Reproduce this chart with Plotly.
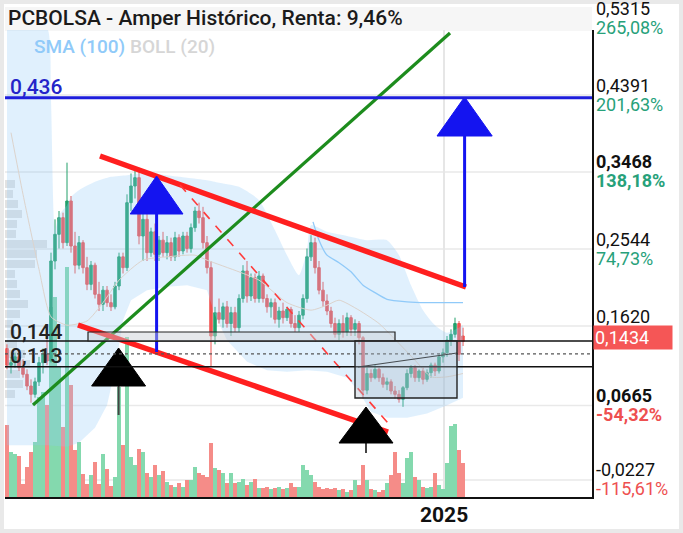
import plotly.graph_objects as go
import pandas as pd

# ---------------- data ----------------
START = pd.Timestamp("2022-11-28")
N_WEEKS = 115
DATES = pd.date_range(START, periods=N_WEEKS, freq="7D")

OPEN = [0.135, 0.115, 0.118, 0.125, 0.112, 0.104, 0.090, 0.080, 0.095, 0.118,
        0.128, 0.120, 0.240, 0.272, 0.292, 0.262, 0.312, 0.258, 0.235, 0.262,
        0.232, 0.212, 0.235, 0.200, 0.188, 0.205, 0.190, 0.185, 0.210, 0.245,
        0.232, 0.310, 0.330, 0.340, 0.270, 0.290, 0.250, 0.275, 0.248, 0.265,
        0.250, 0.262, 0.245, 0.268, 0.252, 0.270, 0.255, 0.280, 0.300, 0.292,
        0.262, 0.232, 0.150, 0.178, 0.170, 0.185, 0.165, 0.178, 0.160, 0.195,
        0.228, 0.198, 0.220, 0.195, 0.222, 0.195, 0.185, 0.190, 0.170, 0.180,
        0.172, 0.182, 0.165, 0.160, 0.175, 0.195, 0.245, 0.262, 0.232, 0.205,
        0.192, 0.180, 0.165, 0.152, 0.165, 0.155, 0.172, 0.158, 0.165, 0.148,
        0.085, 0.105, 0.100, 0.110, 0.100, 0.092, 0.095, 0.084, 0.080, 0.074,
        0.088, 0.105, 0.112, 0.100, 0.108, 0.098, 0.106, 0.115, 0.108, 0.125,
        0.130, 0.145, 0.152, 0.165, 0.150]
HIGH = [0.140, 0.125, 0.130, 0.128, 0.122, 0.110, 0.098, 0.100, 0.125, 0.135,
        0.150, 0.250, 0.290, 0.300, 0.298, 0.358, 0.318, 0.275, 0.270, 0.265,
        0.245, 0.240, 0.238, 0.215, 0.210, 0.210, 0.200, 0.215, 0.250, 0.250,
        0.320, 0.345, 0.350, 0.352, 0.300, 0.300, 0.280, 0.285, 0.270, 0.275,
        0.270, 0.268, 0.275, 0.272, 0.275, 0.275, 0.285, 0.305, 0.310, 0.305,
        0.270, 0.240, 0.185, 0.195, 0.190, 0.192, 0.185, 0.185, 0.200, 0.235,
        0.240, 0.225, 0.225, 0.228, 0.225, 0.200, 0.195, 0.195, 0.185, 0.190,
        0.185, 0.185, 0.175, 0.180, 0.200, 0.255, 0.271, 0.268, 0.240, 0.215,
        0.200, 0.185, 0.172, 0.170, 0.175, 0.178, 0.175, 0.170, 0.168, 0.150,
        0.112, 0.110, 0.115, 0.112, 0.105, 0.100, 0.098, 0.090, 0.085, 0.090,
        0.110, 0.115, 0.115, 0.110, 0.112, 0.110, 0.118, 0.118, 0.128, 0.135,
        0.150, 0.158, 0.172, 0.168, 0.160]
LOW = [0.110, 0.105, 0.112, 0.108, 0.100, 0.085, 0.070, 0.076, 0.090, 0.105,
       0.115, 0.118, 0.230, 0.255, 0.255, 0.258, 0.250, 0.225, 0.230, 0.225,
       0.205, 0.205, 0.195, 0.180, 0.180, 0.185, 0.180, 0.182, 0.205, 0.225,
       0.228, 0.300, 0.315, 0.260, 0.240, 0.240, 0.245, 0.240, 0.240, 0.245,
       0.242, 0.240, 0.240, 0.245, 0.248, 0.250, 0.250, 0.275, 0.285, 0.255,
       0.225, 0.113, 0.140, 0.165, 0.160, 0.160, 0.150, 0.155, 0.155, 0.190,
       0.190, 0.192, 0.190, 0.190, 0.190, 0.178, 0.172, 0.165, 0.160, 0.165,
       0.168, 0.160, 0.155, 0.155, 0.170, 0.190, 0.240, 0.225, 0.200, 0.185,
       0.175, 0.160, 0.148, 0.145, 0.148, 0.150, 0.150, 0.150, 0.140, 0.075,
       0.080, 0.095, 0.098, 0.095, 0.088, 0.085, 0.080, 0.075, 0.070, 0.065,
       0.085, 0.100, 0.095, 0.095, 0.092, 0.095, 0.100, 0.102, 0.105, 0.118,
       0.125, 0.138, 0.148, 0.120, 0.138]
CLOSE = [0.115, 0.118, 0.125, 0.112, 0.104, 0.090, 0.080, 0.095, 0.118, 0.128,
         0.120, 0.240, 0.272, 0.292, 0.262, 0.312, 0.258, 0.235, 0.262, 0.232,
         0.212, 0.235, 0.200, 0.188, 0.205, 0.190, 0.185, 0.210, 0.245, 0.232,
         0.310, 0.330, 0.340, 0.270, 0.290, 0.250, 0.275, 0.248, 0.265, 0.250,
         0.262, 0.245, 0.268, 0.252, 0.270, 0.255, 0.280, 0.300, 0.292, 0.262,
         0.232, 0.150, 0.178, 0.170, 0.185, 0.165, 0.178, 0.160, 0.195, 0.228,
         0.198, 0.220, 0.195, 0.222, 0.195, 0.185, 0.190, 0.170, 0.180, 0.172,
         0.182, 0.165, 0.160, 0.175, 0.195, 0.245, 0.262, 0.232, 0.205, 0.192,
         0.180, 0.165, 0.152, 0.165, 0.155, 0.172, 0.158, 0.165, 0.148, 0.085,
         0.105, 0.100, 0.110, 0.100, 0.092, 0.095, 0.084, 0.080, 0.074, 0.088,
         0.105, 0.112, 0.100, 0.108, 0.098, 0.106, 0.115, 0.108, 0.125, 0.130,
         0.145, 0.152, 0.165, 0.128, 0.1434]
VOLUME = [72, 45, 43, 41, 13, 30, 45, 55, 100, 105,
          92, 190, 200, 130, 70, 230, 112, 47, 55, 23,
          13, 22, 35, 13, 43, 28, 11, 20, 110, 52,
          160, 40, 32, 48, 45, 24, 20, 32, 22, 26,
          15, 12, 10, 14, 10, 17, 17, 30, 24, 22,
          20, 54, 29, 27, 24, 14, 24, 14, 15, 18,
          12, 15, 18, 9, 9, 10, 8, 9, 10, 8,
          9, 14, 10, 10, 32, 27, 22, 15, 10, 8,
          9, 8, 9, 7, 8, 5, 7, 17, 12, 32,
          17, 8, 7, 5, 7, 14, 22, 45, 24, 14,
          39, 45, 20, 17, 10, 9, 10, 24, 12, 8,
          34, 71, 73, 47, 34]

BOLL_IDX = [0, 5, 10, 11, 12, 13, 15, 16, 18, 22, 26, 30, 35, 40, 45, 50, 53, 58,
            63, 67, 70, 73, 75, 76, 80, 85, 90, 95, 98, 101, 104, 107, 110, 114]
BOLL_UP = [0.530, 0.530, 0.520, 0.433, 0.277, 0.295, 0.307, 0.317, 0.325, 0.335,
           0.341, 0.343, 0.346, 0.343, 0.340, 0.337, 0.334, 0.329, 0.313, 0.277,
           0.247, 0.223, 0.253, 0.283, 0.275, 0.270, 0.265, 0.265, 0.247, 0.211,
           0.181, 0.163, 0.154, 0.163]
LOW_IDX = [0, 10, 15, 18, 22, 25, 27, 29, 31, 35, 40, 45, 50, 52, 55, 60, 65, 70,
           75, 80, 85, 88, 91, 95, 100, 105, 110, 114]
BOLL_LOW = [0.019, 0.019, 0.017, 0.022, 0.040, 0.067, 0.109, 0.169, 0.193, 0.205,
            0.209, 0.211, 0.205, 0.175, 0.145, 0.119, 0.109, 0.107, 0.109, 0.107,
            0.100, 0.083, 0.059, 0.052, 0.052, 0.057, 0.067, 0.076]
MID_IDX = [1, 4, 8, 11, 15, 20, 24, 28, 34, 40, 47, 50, 58, 63, 70, 76, 80, 83,
           88, 93, 98, 102, 106, 110, 114]
BOLL_MID = [0.394, 0.320, 0.230, 0.173, 0.163, 0.168, 0.190, 0.217, 0.241, 0.245,
            0.247, 0.241, 0.227, 0.217, 0.190, 0.181, 0.187, 0.193, 0.181, 0.165,
            0.141, 0.121, 0.101, 0.101, 0.105]
SMA_IDX = [76.5, 78, 80, 83, 86, 89, 92, 95, 100, 105, 110, 114]
SMA_100 = [0.287, 0.265, 0.247, 0.238, 0.227, 0.211, 0.202, 0.194, 0.191, 0.190,
           0.190, 0.190]

# Volume profile (price level -> volume)
PROFILE_PRICE = [0.332, 0.320, 0.308, 0.296, 0.284, 0.272, 0.260, 0.248, 0.236,
                 0.224, 0.212, 0.200, 0.188, 0.176, 0.164, 0.152, 0.140, 0.128,
                 0.116, 0.104, 0.092, 0.080]
PROFILE_VOL = [10, 8, 13, 17, 12, 11, 42, 32, 30, 10, 12, 15, 23, 15, 8, 10, 12,
               20, 25, 15, 18, 10]

# Axis labels
TICK_PRICES = [0.5315, 0.4391, 0.3468, 0.2544, 0.1620, 0.0665, -0.0227]
TICK_PRICE_TEXT = ["0,5315", "0,4391", "0,3468", "0,2544", "0,1620", "0,0665", "-0,0227"]
TICK_PCT_TEXT = ["265,08%", "201,63%", "138,18%", "74,73%", "11,28%", "-54,32%", "-115,61%"]
TICK_BOLD = [False, False, True, False, False, True, False]
LAST_PRICE = 0.1434
LAST_PRICE_TEXT = "0,1434"
YEAR_TICK = "2025-01-01"
YEAR_TEXT = "2025"

# Drawings (week index, price)
GREEN_LINE = [(6.5, 0.0672), (110.75, 0.5136)]
RED_UPPER = [(23.25, 0.366), (114.75, 0.2088)]
RED_LOWER = [(17.75, 0.1632), (95.25, 0.0348)]
RED_DASH = [(43.25, 0.3312), (95.25, 0.0456)]
BLUE_LEVEL = 0.436
LEVEL_HI = 0.144
LEVEL_LO = 0.113
LEVEL_MID = 0.1285
BLUE_ARROWS = [  # shaft x, shaft bottom, head base, apex, head half width
    (37.4, 0.1308, 0.2964, 0.342, 6.6),
    (114.4, 0.2088, 0.390, 0.4368, 6.9),
]
BLACK_TRIANGLES = [  # x, apex, base, stem bottom, half width
    (27.9, 0.1356, 0.090, 0.0552, 6.75),
    (89.75, 0.0648, 0.0216, 0.0096, 6.75),
]
RECT_A = (20.25, 97.0, 0.144, 0.1548)
RECT_B = (87.0, 112.5, 0.0756, 0.144)
THIN_LINE = [(87.75, 0.1128), (112.5, 0.1296)]

# ---------------- helpers ----------------
def at(i):
    return START + pd.Timedelta(days=7 * i)

X_RANGE = [at(-0.5), at(146.25)]
Y_RANGE = [-0.0432, 0.5172]

def yp(v):  # price -> paper fraction
    return (v - Y_RANGE[0]) / (Y_RANGE[1] - Y_RANGE[0])

GREEN = "#22a06b"
RED = "#f0524f"
VOL_GREEN = "#84d9ae"
VOL_RED = "#f58c88"
FONT = "Roboto"

fig = go.Figure()

vol_colors = [VOL_GREEN if c >= o else VOL_RED for o, c in zip(OPEN, CLOSE)]
fig.add_trace(go.Bar(x=DATES, y=VOLUME, marker=dict(color=vol_colors, line=dict(width=0)),
                     width=5.6 * 86400000, yaxis="y", hoverinfo="skip", showlegend=False))

DAY_MS = 86400000
fig.add_trace(go.Bar(y=PROFILE_PRICE, x=[v * 1.77 * DAY_MS for v in PROFILE_VOL],
                     base=[X_RANGE[0]] * len(PROFILE_VOL), orientation="h", width=0.0096,
                     marker=dict(color="rgba(150,150,150,0.28)", line=dict(width=0)),
                     yaxis="y2", hoverinfo="skip", showlegend=False))

fig.add_trace(go.Scatter(x=[DATES[i] for i in LOW_IDX], y=BOLL_LOW, mode="lines",
                         line=dict(width=0, color="rgba(0,0,0,0)"), yaxis="y2",
                         hoverinfo="skip", showlegend=False))
fig.add_trace(go.Scatter(x=[DATES[i] for i in BOLL_IDX], y=BOLL_UP, mode="lines",
                         line=dict(width=0, color="rgba(0,0,0,0)", shape="spline", smoothing=0.6),
                         fill="tonexty", fillcolor="rgba(144,202,249,0.28)", yaxis="y2",
                         hoverinfo="skip", showlegend=False))
fig.add_trace(go.Scatter(x=[DATES[i] for i in MID_IDX], y=BOLL_MID, mode="lines",
                         line=dict(width=1, color="#dcd3cc", shape="spline", smoothing=0.6),
                         yaxis="y2", hoverinfo="skip", showlegend=False))
fig.add_trace(go.Scatter(x=[at(i) for i in SMA_IDX], y=SMA_100, mode="lines",
                         line=dict(width=1.3, color="#90caf9", shape="spline", smoothing=0.5),
                         yaxis="y2", hoverinfo="skip", showlegend=False))

fig.add_trace(go.Candlestick(x=DATES, open=OPEN, high=HIGH, low=LOW, close=CLOSE,
                             increasing=dict(line=dict(color=GREEN, width=1), fillcolor=GREEN),
                             decreasing=dict(line=dict(color=RED, width=1), fillcolor=RED),
                             whiskerwidth=0, yaxis="y2", hoverinfo="skip", showlegend=False))

def seg(points, color, width, dash="solid"):
    fig.add_trace(go.Scatter(x=[at(p[0]) for p in points], y=[p[1] for p in points],
                             mode="lines", line=dict(color=color, width=width, dash=dash),
                             yaxis="y2", hoverinfo="skip", showlegend=False))

seg(GREEN_LINE, "#1d8c1d", 3.2)
seg(RED_UPPER, "#ff1f1f", 5.5)
seg(RED_LOWER, "#ff1f1f", 5.5)
seg(RED_DASH, "#ff3b3b", 1.6, "dash")
seg(THIN_LINE, "#111111", 1.2)

for (x, bot, base, apex, hw) in BLUE_ARROWS:
    seg([(x, bot), (x, base)], "#1414f0", 3)
    fig.add_trace(go.Scatter(x=[at(x - hw), at(x), at(x + hw), at(x - hw)],
                             y=[base, apex, base, base], mode="lines", fill="toself",
                             fillcolor="#1414f0", line=dict(color="#1414f0", width=1),
                             yaxis="y2", hoverinfo="skip", showlegend=False))

for (x, apex, base, stem, hw) in BLACK_TRIANGLES:
    seg([(x, base), (x, stem)], "#444444", 2)
    fig.add_trace(go.Scatter(x=[at(x - hw), at(x), at(x + hw), at(x - hw)],
                             y=[base, apex, base, base], mode="lines", fill="toself",
                             fillcolor="#000000", line=dict(color="#000000", width=1),
                             yaxis="y2", hoverinfo="skip", showlegend=False))

# ---------------- shapes ----------------
PX_W, PX_H = 587.0, 467.0
def px_x(px):
    return (px - 5) / PX_W
def px_y(py):
    return (497 - py) / PX_H

shapes = []
shapes.append(dict(type="rect", xref="paper", yref="paper", x0=px_x(4), x1=px_x(679),
                   y0=px_y(529), y1=px_y(4), fillcolor="white", line=dict(width=0), layer="below"))
shapes.append(dict(type="rect", xref="paper", yref="paper", x0=px_x(5), x1=px_x(592),
                   y0=px_y(31), y1=px_y(7), fillcolor="#f6f6f6", line=dict(width=0), layer="below"))
for v in TICK_PRICES:
    if Y_RANGE[0] < v < Y_RANGE[1]:
        shapes.append(dict(type="line", xref="paper", yref="y2", x0=0, x1=1, y0=v, y1=v,
                           line=dict(color="#e9e9e9", width=1.5), layer="below"))
shapes.append(dict(type="line", xref="paper", yref="y2", x0=0, x1=1, y0=BLUE_LEVEL, y1=BLUE_LEVEL,
                   line=dict(color="#1e1edc", width=3), layer="above"))
for v in (LEVEL_HI, LEVEL_LO):
    shapes.append(dict(type="line", xref="paper", yref="y2", x0=0, x1=1, y0=v, y1=v,
                       line=dict(color="#111111", width=1.5), layer="above"))
shapes.append(dict(type="line", xref="paper", yref="y2", x0=0, x1=1, y0=LEVEL_MID, y1=LEVEL_MID,
                   line=dict(color="#555555", width=1.2, dash="dot"), layer="above"))
shapes.append(dict(type="rect", xref="x", yref="y2", x0=at(RECT_A[0]), x1=at(RECT_A[1]),
                   y0=RECT_A[2], y1=RECT_A[3], fillcolor="rgba(200,205,210,0.45)",
                   line=dict(color="#222222", width=1.2), layer="above"))
shapes.append(dict(type="rect", xref="x", yref="y2", x0=at(RECT_B[0]), x1=at(RECT_B[1]),
                   y0=RECT_B[2], y1=RECT_B[3], fillcolor="rgba(170,185,200,0.35)",
                   line=dict(color="#222222", width=1.4), layer="above"))

# ---------------- annotations ----------------
ann = []
ann.append(dict(text="PCBOLSA - Amper Histórico, Renta: 9,46%", xref="paper", yref="paper",
                x=px_x(6), y=px_y(18), xanchor="left", yanchor="middle", showarrow=False,
                font=dict(family=FONT, size=21, color="#1b1b1b", weight=500)))
ann.append(dict(text="SMA (100)", xref="paper", yref="paper", x=px_x(32), y=px_y(46),
                xanchor="left", yanchor="middle", showarrow=False,
                font=dict(family=FONT, size=19, color="#90caf9", weight=500)))
ann.append(dict(text="BOLL (20)", xref="paper", yref="paper", x=px_x(128), y=px_y(46),
                xanchor="left", yanchor="middle", showarrow=False,
                font=dict(family=FONT, size=19, color="#d6d6d6", weight=500)))
for txt, v, col, sh in (("0,436", BLUE_LEVEL, "#2424c8", -3), ("0,144", LEVEL_HI, "#222222", -5),
                        ("0,113", LEVEL_LO, "#222222", -3)):
    ann.append(dict(text=txt, xref="paper", yref="paper", x=px_x(8), y=yp(v), yshift=sh,
                    xanchor="left", yanchor="bottom", showarrow=False,
                    font=dict(family=FONT, size=21, color=col, weight=500)))
for v, pt, pc, b in zip(TICK_PRICES, TICK_PRICE_TEXT, TICK_PCT_TEXT, TICK_BOLD):
    w = 700 if b else 400
    ann.append(dict(text=pt, xref="paper", yref="paper", x=1, xshift=2, y=yp(v), yshift=10,
                    xanchor="left", yanchor="middle", showarrow=False,
                    font=dict(family=FONT, size=18, color="#111111", weight=w)))
    ann.append(dict(text=pc, xref="paper", yref="paper", x=1, xshift=2, y=yp(v), yshift=-9,
                    xanchor="left", yanchor="middle", showarrow=False,
                    font=dict(family=FONT, size=18,
                              color=("#ee5050" if pc.startswith("-") else "#27a17a"), weight=w)))
ann.append(dict(text=LAST_PRICE_TEXT, xref="paper", yref="paper", x=1, xshift=1, y=yp(LAST_PRICE),
                yshift=4, xanchor="left", yanchor="middle", showarrow=False, align="left",
                width=76, height=21, bgcolor="#f55656", borderpad=1,
                font=dict(family=FONT, size=18, color="white")))
ann.append(dict(text="<b>" + YEAR_TEXT + "</b>", xref="x", yref="paper", x=YEAR_TICK, y=px_y(515),
                xanchor="center", yanchor="middle", showarrow=False,
                font=dict(family=FONT, size=21, color="#111111")))

fig.update_layout(
    width=683, height=533,
    margin=dict(l=5, r=91, t=30, b=36),
    paper_bgcolor="#e9e9e9", plot_bgcolor="rgba(0,0,0,0)",
    showlegend=False, shapes=shapes, annotations=ann, bargap=0, boxgap=0.12,
    xaxis=dict(type="date", range=X_RANGE, rangeslider=dict(visible=False),
               tickvals=[YEAR_TICK], showticklabels=False, ticks="",
               showgrid=True, gridcolor="#e6e6e6", gridwidth=1.5,
               showline=True, linecolor="#111111", linewidth=1.5, zeroline=False,
               fixedrange=True),
    yaxis=dict(range=[0, 467], visible=False, fixedrange=True),
    yaxis2=dict(range=Y_RANGE, overlaying="y", side="right", showgrid=False,
                showticklabels=False, ticks="", zeroline=False,
                showline=True, linecolor="#111111", linewidth=1.5, fixedrange=True),
)

fig.write_html("out.html", config={"displayModeBar": False},
               post_script="document.body.style.margin='0px';")
